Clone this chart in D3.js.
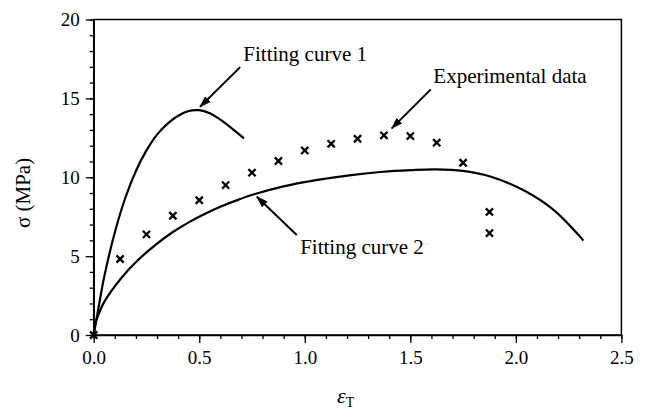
<!DOCTYPE html>
<html>
<head>
<meta charset="utf-8">
<script src="https://cdn.jsdelivr.net/npm/d3@7"></script>
<style>
  body { margin: 0; background: #fff; }
  svg text { font-family: "Liberation Serif", "Times New Roman", Times, "Noto Serif", "DejaVu Serif", serif !important; }
</style>
</head>
<body>
<svg id="svg" width="649" height="409"></svg>
<script>
const w = 649;
const h = 409;

// experimental points (x marks)
const strainExp = [0, 0.125, 0.25, 0.375, 0.5, 0.625, 0.75, 0.875, 1.0, 1.125, 1.25, 1.375, 1.5, 1.625, 1.75, 1.875, 1.875];
const stressExp = [0, 4.82, 6.38, 7.56, 8.54, 9.5, 10.29, 11.03, 11.7, 12.12, 12.44, 12.66, 12.61, 12.19, 10.92, 7.8, 6.46];

// fitting curve 1
const strainFit1 = [0, 0.025, 0.05, 0.1, 0.15, 0.2, 0.25, 0.3, 0.35, 0.4, 0.45, 0.5, 0.55, 0.6, 0.65, 0.712];
const stressFit1 = [0, 1.9, 3.7, 6.5, 8.7, 10.4, 11.7, 12.7, 13.4, 13.9, 14.2, 14.25, 14.05, 13.65, 13.15, 12.47];

// fitting curve 2
const strainFit2 = [0, 0.008, 0.02, 0.05, 0.13, 0.21, 0.29, 0.37, 0.45, 0.53, 0.6, 0.68, 0.76, 0.9, 1.06, 1.22, 1.37, 1.5, 1.62, 1.75, 1.89, 2.05, 2.18, 2.3, 2.32];
const stressFit2 = [0, 0.72, 1.2, 2.1, 3.6, 4.75, 5.68, 6.48, 7.14, 7.7, 8.13, 8.55, 8.92, 9.42, 9.83, 10.14, 10.35, 10.45, 10.5, 10.4, 10.0, 9.08, 7.92, 6.3, 5.98];

const xTicks = [0, 0.5, 1.0, 1.5, 2.0, 2.5];
const yTicks = [0, 5, 10, 15, 20];
const xMinor = d3.range(0, 2.51, 0.1);
const yMinor = d3.range(0, 20.1, 1);

const annoText = ["Fitting curve 1", "Experimental data", "Fitting curve 2"];

let svg = d3.select("#svg");

let xScale = d3.scaleLinear([0, 2.5], [93.7, 621.4]);
let yScale = d3.scaleLinear([0, 20], [335, 19.5]);

// minor ticks
svg.append("g")
  .attr("transform", `translate(0,${yScale(0)})`)
  .call(d3.axisBottom(xScale).tickValues(xMinor).tickSize(4).tickFormat(""))
  .call((g) => g.select(".domain").remove())
  .selectAll("line").attr("stroke-width", 1.3);

svg.append("g")
  .attr("transform", `translate(${xScale(0)},0)`)
  .call(d3.axisLeft(yScale).tickValues(yMinor).tickSize(4).tickFormat(""))
  .call((g) => g.select(".domain").remove())
  .selectAll("line").attr("stroke-width", 1.3);

// major ticks + labels
let xAxis = svg.append("g")
  .attr("transform", `translate(0,${yScale(0)})`)
  .call(d3.axisBottom(xScale).tickValues(xTicks).tickSize(8).tickSizeOuter(0).tickPadding(8).tickFormat(d3.format(".1f")));

let yAxis = svg.append("g")
  .attr("transform", `translate(${xScale(0)},0)`)
  .call(d3.axisLeft(yScale).tickValues(yTicks).tickSize(8).tickSizeOuter(0).tickPadding(6).tickFormat(d3.format("d")));

[xAxis, yAxis].forEach((g) => {
  g.attr("font-size", 19);
  g.selectAll("text").attr("fill", "black");
  g.selectAll("line").attr("stroke-width", 1.3);
  g.select(".domain").attr("stroke-width", 1.5);
});

// frame
svg.append("rect")
  .attr("x", xScale(0))
  .attr("y", yScale(20))
  .attr("width", xScale(2.5) - xScale(0))
  .attr("height", yScale(0) - yScale(20))
  .attr("fill", "none")
  .attr("stroke", "black")
  .attr("stroke-width", 1.5);

// curves
let lineFunc = d3.line()
  .x((d) => xScale(d[0]))
  .y((d) => yScale(d[1]))
  .curve(d3.curveCatmullRom.alpha(0.5));

const fit1 = d3.zip(strainFit1, stressFit1);
const fit2 = d3.zip(strainFit2, stressFit2);

[fit1, fit2].forEach((dataset) => {
  svg.append("path")
    .datum(dataset)
    .attr("fill", "none")
    .attr("stroke", "black")
    .attr("stroke-width", 2.2)
    .attr("d", lineFunc);
});

// x marks
const r = 3.6;
svg.append("g")
  .selectAll("path")
  .data(d3.zip(strainExp, stressExp))
  .join("path")
  .attr("transform", (d) => `translate(${xScale(d[0])},${yScale(d[1])})`)
  .attr("d", `M${-r},${-r}L${r},${r}M${-r},${r}L${r},${-r}`)
  .attr("stroke", "black")
  .attr("stroke-width", 2.3)
  .attr("fill", "none");

// arrowhead
svg.append("defs")
  .append("marker")
  .attr("id", "arrow")
  .attr("markerUnits", "userSpaceOnUse")
  .attr("viewBox", "0 0 12 8")
  .attr("refX", 11)
  .attr("refY", 4)
  .attr("markerWidth", 12)
  .attr("markerHeight", 8)
  .attr("orient", "auto")
  .append("path")
  .attr("d", "M0,0L12,4L0,8Z")
  .attr("fill", "black");

// annotations: label anchor, arrow start, arrow tip (data coords)
const annotations = [
  { text: annoText[0], tx: 0.709, ty: 17.36, x1: 0.694, y1: 16.98, x2: 0.504, y2: 14.47 },
  { text: annoText[1], tx: 1.609, ty: 15.99, x1: 1.597, y1: 15.57, x2: 1.412, y2: 13.1 },
  { text: annoText[2], tx: 0.978, ty: 5.13, x1: 0.962, y1: 6.34, x2: 0.773, y2: 8.76 },
];

annotations.forEach((a) => {
  svg.append("line")
    .attr("x1", xScale(a.x1))
    .attr("y1", yScale(a.y1))
    .attr("x2", xScale(a.x2))
    .attr("y2", yScale(a.y2))
    .attr("stroke", "black")
    .attr("stroke-width", 2)
    .attr("marker-end", "url(#arrow)");

  svg.append("text")
    .attr("x", xScale(a.tx))
    .attr("y", yScale(a.ty))
    .attr("font-size", 21)
    .text(a.text);
});

// axis titles
svg.append("text")
  .attr("transform", "translate(30,193) rotate(-90)")
  .attr("text-anchor", "middle")
  .attr("font-size", 21)
  .text("σ (MPa)");

let xTitle = svg.append("text")
  .attr("x", 337)
  .attr("y", 403)
  .attr("font-size", 22);
xTitle.append("tspan").attr("font-style", "italic").text("ε");
xTitle.append("tspan").attr("dy", 4).attr("font-size", 14).text("T");
</script>
</body>
</html>
